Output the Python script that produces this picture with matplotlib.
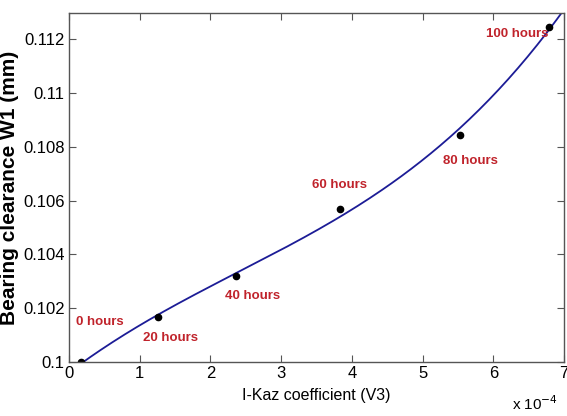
import matplotlib
matplotlib.use("Agg")
import matplotlib.pyplot as plt
import numpy as np

# I-Kaz coefficient (x 1e-4) and bearing clearance W1 (mm)
ikaz = [0.17, 1.26, 2.36, 3.83, 5.53, 6.79]
clearance = [0.1000, 0.10167, 0.10319, 0.10570, 0.10844, 0.11244]
hours = ["0 hours", "20 hours", "40 hours", "60 hours", "80 hours", "100 hours"]
label_x = [0.44, 1.44, 2.59, 3.83, 5.67, 6.34]
label_y = [0.10148, 0.10089, 0.10244, 0.10659, 0.10748, 0.11219]

sans = ["Liberation Sans", "DejaVu Sans"]

fig = plt.figure(figsize=(5.67, 4.16), dpi=100)
ax = fig.add_axes([0.1217, 0.1298, 0.873, 0.839])

# cubic fit through the measured points
coef = np.polyfit(ikaz, clearance, 3)
xs = np.linspace(ikaz[0], 7, 200)
ax.plot(xs, np.polyval(coef, xs), color="#1c1c96", lw=1.3)
ax.plot(ikaz, clearance, "o", color="black", ms=4.5)

for t, x, y in zip(hours, label_x, label_y):
    ax.text(x, y, t, color="#c0232b", fontsize=9.5, fontweight="bold",
            family=sans, ha="center", va="center")

ax.set_xlim(0, 7)
ax.set_ylim(0.1, 0.11297)
ax.set_xticks(range(8))
ax.set_yticks([0.1, 0.102, 0.104, 0.106, 0.108, 0.11, 0.112])
ax.set_yticklabels(["0.1", "0.102", "0.104", "0.106", "0.108", "0.11", "0.112"])
ax.tick_params(direction="in", top=True, right=True, length=5, width=0.8,
               color="#555555", labelsize=12, pad=3)
for lab in ax.get_xticklabels() + ax.get_yticklabels():
    lab.set_family(sans)
for s in ax.spines.values():
    s.set_color("#555555")
    s.set_linewidth(1.0)

ax.set_xlabel("I-Kaz coefficient (V3)", fontsize=11.5, family=sans, labelpad=5)
ax.set_ylabel("Bearing clearance W1 (mm)", fontsize=15, fontweight="bold",
              family=sans, labelpad=3)
fig.text(0.985, 0.015, r"x 10$^{-4}$", fontsize=11, family=sans, ha="right")

fig.savefig("out.png", dpi=100)
